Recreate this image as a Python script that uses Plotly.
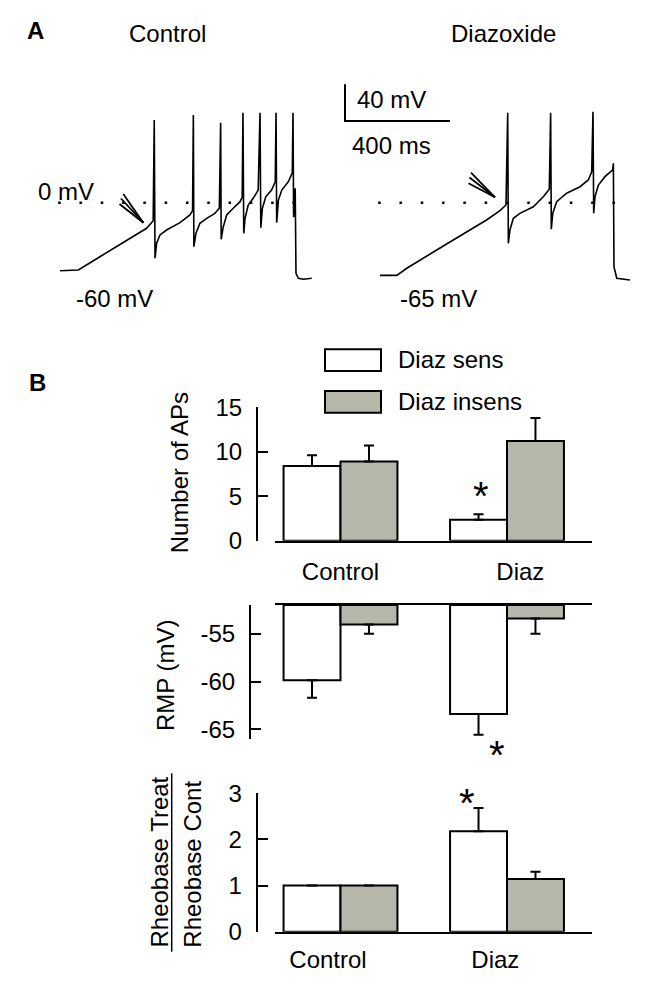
import plotly.graph_objects as go

# the page adds an 8 px body margin, so the figure is drawn 16 px smaller and
# every pixel position below is measured in the full 656 x 992 picture
PAGE_W, PAGE_H, BODY = 656, 992, 8
W, H = PAGE_W - 2 * BODY, PAGE_H - 2 * BODY
FONT = "Liberation Sans, Arial, Helvetica, sans-serif"
FS = 24
GRAY = "#b6b6aa"

# ---------------- Panel A: membrane potential traces (time in ms, voltage in mV) ----------------
ctrl_t = [0, 70, 152, 216, 279, 330, 355, 359, 362, 368, 381, 406, 457, 495, 505, 508, 510, 518,
          533, 559, 590, 607, 612, 614, 622, 635, 660, 686, 694, 697, 700, 705, 717, 736, 755, 762,
          765, 771, 784, 806, 820, 823, 825.5, 832, 845, 870, 885, 887.6, 890, 896, 899, 908, 927, 959]
ctrl_v = [-74.2, -73.4, -58.9, -48.0, -37.1, -27.9, -19.6, 90.2, -60.6, -44.3, -35.2, -29.8, -21.8,
          -13.4, -8.7, 95.6, -48.0, -33.4, -22.5, -17.0, -11.6, -6.1, 87.2, -39.9, -26.2, -13.4, -6.1,
          1.1, 5.9, 98.1, -33.4, -17.0, -2.5, 4.8, 13.8, 98.1, -27.3, -6.1, 6.5, 13.8, 22.9, 98.1,
          -21.8, 2.9, 13.8, 22.9, 32.7, 98.1, -15.9, 15.7, -77.0, -82.4, -83.5, -82.4]

diaz_t = [0, 64, 102, 152, 216, 279, 343, 406, 457, 480, 486.5, 489, 495, 508, 533, 584, 622, 645,
          650, 652.6, 658, 673, 711, 762, 793.5, 806.5, 811.4, 814, 819, 832, 857, 886.5, 889, 891.4,
          902, 952]
diaz_v = [-79.2, -79.2, -71.5, -62.5, -51.6, -40.7, -29.8, -18.9, -8.7, -2.5, 98.1, -44.3, -29.8,
          -17.0, -11.6, -4.4, 6.5, 14.6, 98.1, -29.0, -11.6, 1.1, 10.3, 17.4, 24.8, 33.8, 99.2, -11.6,
          6.5, 19.3, 28.4, 35.7, 43.0, -70.0, -82.4, -84.3]

zero_line_t = [-7, 895]          # extent of the dotted 0 mV reference line (ms)
SCALE_MV, SCALE_MS = 40, 400      # scale bar

# ---------------- Panel B: bar data ----------------
groups = ["Control", "Diaz"]
aps_sens = [8.4, 2.35]
aps_sens_err = [1.2, 0.62]
aps_ins = [8.9, 11.2]
aps_ins_err = [1.8, 2.6]

rmp_sens = [-59.85, -63.4]
rmp_sens_err = [1.85, 2.15]
rmp_ins = [-54.05, -53.4]
rmp_ins_err = [0.95, 1.6]
RMP_BASE = -52

rheo_sens = [1.0, 2.18]
rheo_sens_err = [0.0, 0.5]
rheo_ins = [1.0, 1.14]
rheo_ins_err = [0.0, 0.16]

aps_ticks = [0, 5, 10, 15]
rmp_ticks = [-65, -60, -55]
rheo_ticks = [0, 1, 2, 3]


# ---------------- helpers (page pixel geometry -> paper) ----------------
def px(p):
    return (p - BODY) / W


def py(p):
    return 1 - (p - BODY) / H


def ydom(top, bot):
    return [py(bot), py(top)]


fig = go.Figure()

# Panel A geometry
A_TOP, A_BOT = 80, 290
ZERO_PX = 202.7
PX_PER_MV = 0.917
PX_PER_MS = 0.2625
v_range = [(ZERO_PX - A_BOT) / PX_PER_MV, (ZERO_PX - A_TOP) / PX_PER_MV]
CTRL_T0, DIAZ_T0 = 60, 380
CTRL_DOM, DIAZ_DOM = (50, 320), (335, 640)

trace_line = dict(color="black", width=1.6)
dot_line = dict(color="black", width=2.5, dash="2.5px,18.8px")

fig.add_trace(go.Scatter(x=ctrl_t, y=ctrl_v, mode="lines", line=trace_line, xaxis="x", yaxis="y"))
fig.add_trace(go.Scatter(x=zero_line_t, y=[0, 0], mode="lines", line=dot_line, xaxis="x", yaxis="y"))
fig.add_trace(go.Scatter(x=diaz_t, y=diaz_v, mode="lines", line=trace_line, xaxis="x2", yaxis="y2"))
fig.add_trace(go.Scatter(x=zero_line_t, y=[0, 0], mode="lines", line=dot_line, xaxis="x2", yaxis="y2"))

# scale bar (anchored in the Diazoxide axes)
sb_t0 = (345 - DIAZ_T0) / PX_PER_MS
sb_v0 = (ZERO_PX - 121) / PX_PER_MV
fig.add_trace(go.Scatter(x=[sb_t0, sb_t0, sb_t0 + SCALE_MS], y=[sb_v0 + SCALE_MV, sb_v0, sb_v0],
                         mode="lines", line=dict(color="black", width=2), xaxis="x2", yaxis="y2"))

# Panel B geometry
CAT_PX0, CAT_UNIT = 340.5, 166.5
X_DOM = (275, 592)
x_range = [(X_DOM[0] - CAT_PX0) / CAT_UNIT, (X_DOM[1] - CAT_PX0) / CAT_UNIT]
BW = 0.342
xpos = list(range(len(groups)))


def add_bars(n, sens, sens_err, ins, ins_err, base=None):
    xa, ya = f"x{n}", f"y{n}"
    for vals, errs, color, off in ((sens, sens_err, "white", -BW), (ins, ins_err, GRAY, 0.0)):
        if base is None:
            yv = vals
        else:
            yv = [v - base for v in vals]
        fig.add_trace(go.Bar(x=xpos, y=yv, base=base, width=BW, offset=off,
                             marker=dict(color=color, line=dict(color="black", width=2)),
                             xaxis=xa, yaxis=ya))
        down = base is not None
        fig.add_trace(go.Scatter(
            x=[p + off + BW / 2 for p in xpos], y=vals, mode="markers",
            marker=dict(size=1, color="rgba(0,0,0,0)"),
            error_y=dict(type="data", symmetric=False,
                         array=[0] * len(errs) if down else errs,
                         arrayminus=errs if down else [0] * len(errs),
                         color="black", thickness=2, width=5),
            xaxis=xa, yaxis=ya))


add_bars(3, aps_sens, aps_sens_err, aps_ins, aps_ins_err)
add_bars(4, rmp_sens, rmp_sens_err, rmp_ins, rmp_ins_err, base=RMP_BASE)
add_bars(5, rheo_sens, rheo_sens_err, rheo_ins, rheo_ins_err)

hidden = dict(visible=False, showgrid=False, zeroline=False, automargin=False)
tickfont = dict(family=FONT, size=FS, color="black")


def yax(top, bot, rng, ticks, xpix, anchor):
    return dict(domain=ydom(top, bot), range=rng, anchor="free", position=px(xpix),
                showline=True, linecolor="black", linewidth=2, mirror=False,
                ticks="inside", ticklen=10, tickwidth=2, tickcolor="black",
                tickvals=ticks, ticktext=[str(t) for t in ticks], tickfont=tickfont,
                ticklabelstandoff=9, showgrid=False, zeroline=False, automargin=False)


def xax(anchor, side="bottom", tickvals=None, standoff=8):
    d = dict(domain=[px(X_DOM[0]), px(X_DOM[1])], range=x_range, anchor=anchor, side=side,
             showline=True, linecolor="black", linewidth=2, ticks="", showgrid=False,
             zeroline=False, tickfont=tickfont, automargin=False)
    if tickvals is None:
        d["showticklabels"] = False
    else:
        d["tickvals"] = tickvals
        d["ticktext"] = groups
        d["ticklabelstandoff"] = standoff
    return d


fig.update_layout(
    template="none",
    width=W, height=H, margin=dict(l=0, r=0, t=0, b=0, pad=0, autoexpand=False),
    paper_bgcolor="white", plot_bgcolor="rgba(0,0,0,0)",
    showlegend=False, barmode="overlay",
    font=dict(family=FONT, size=FS, color="black"),
    xaxis=dict(domain=[px(CTRL_DOM[0]), px(CTRL_DOM[1])],
               range=[(CTRL_DOM[0] - CTRL_T0) / PX_PER_MS, (CTRL_DOM[1] - CTRL_T0) / PX_PER_MS],
               anchor="y", **hidden),
    yaxis=dict(domain=ydom(A_TOP, A_BOT), range=v_range, anchor="x", **hidden),
    xaxis2=dict(domain=[px(DIAZ_DOM[0]), px(DIAZ_DOM[1])],
                range=[(DIAZ_DOM[0] - DIAZ_T0) / PX_PER_MS, (DIAZ_DOM[1] - DIAZ_T0) / PX_PER_MS],
                anchor="y2", **hidden),
    yaxis2=dict(domain=ydom(A_TOP, A_BOT), range=v_range, anchor="x2", **hidden),
    xaxis3=xax("y3", tickvals=[0, 1.08], standoff=8),
    yaxis3=yax(407.3, 540.7, [0, 15], aps_ticks, 257, "x3"),
    xaxis4=xax("y4", side="top"),
    yaxis4=yax(605, 739, [-66, RMP_BASE], rmp_ticks, 250, "x4"),
    xaxis5=xax("y5", tickvals=[-0.075, 0.93], standoff=5),
    yaxis5=yax(793.3, 931.7, [0, 3], rheo_ticks, 256.7, "x5"),
)


def ann(text, x, y, size=FS, xanchor="center", bold=False, angle=0):
    fig.add_annotation(text=f"<b>{text}</b>" if bold else text, x=px(x), y=py(y),
                       xref="paper", yref="paper", showarrow=False, xanchor=xanchor,
                       yanchor="middle", textangle=angle,
                       font=dict(family=FONT, size=size, color="black"))


ann("A", 35.5, 30, size=24, bold=True)
ann("B", 37, 382, size=24, bold=True)
ann("Control", 167, 33)
ann("Diazoxide", 503.7, 33)
ann("0 mV", 36, 191.7, xanchor="left")
ann("-60 mV", 74, 298.3, xanchor="left")
ann("-65 mV", 398, 298.3, xanchor="left")
ann("40 mV", 355, 100, xanchor="left")
ann("400 ms", 350, 145.7, xanchor="left")

ann("Diaz sens", 396, 360, xanchor="left")
ann("Diaz insens", 396, 401.7, xanchor="left")
ann("Number of APs", 179, 473.3, angle=-90)
ann("RMP (mV)", 165, 675, angle=-90)
ann("Rheobase Treat", 159, 862.5, angle=-90)
ann("Rheobase Cont", 191.7, 864, angle=-90)

# significance asterisks, positioned relative to the Diaz-sensitive error bars
STAR = dict(family=FONT, size=40, color="black")
xs = 1 - BW / 2
fig.add_annotation(text="*", x=xs, y=aps_sens[1] + aps_sens_err[1], xref="x3", yref="y3",
                   showarrow=False, yshift=18, xshift=2, font=STAR)
fig.add_annotation(text="*", x=xs, y=rmp_sens[1] - rmp_sens_err[1], xref="x4", yref="y4",
                   showarrow=False, yshift=-20, xshift=18, font=STAR)
fig.add_annotation(text="*", x=xs, y=rheo_sens[1] + rheo_sens_err[1], xref="x5", yref="y5",
                   showarrow=False, yshift=5, xshift=-12, font=STAR)

shapes = []


def seg(x0, y0, x1, y1, w=2):
    shapes.append(dict(type="line", xref="paper", yref="paper", x0=px(x0), y0=py(y0),
                       x1=px(x1), y1=py(y1), line=dict(color="black", width=w)))


# arrows (tip + three converging strokes)
for tip, tails in (((143.3, 222.7), [(123.3, 194), (121, 198.5), (119.5, 204)]),
                   ((495, 197.3), [(471, 172.7), (469.5, 177.5), (468.5, 183.3)])):
    for tx, ty in tails:
        seg(tx, ty, tip[0], tip[1], w=1.8)

# fraction bar of the rheobase axis title
seg(171.7, 773.3, 171.7, 951.7, w=1.5)

# legend boxes
for (y0, y1), col in (((349.3, 371), "white"), ((391, 412.7), GRAY)):
    shapes.append(dict(type="rect", xref="paper", yref="paper", x0=px(325), x1=px(381),
                       y0=py(y1), y1=py(y0), fillcolor=col, line=dict(color="black", width=2)))

fig.update_layout(shapes=shapes)
fig.write_html("out.html")
